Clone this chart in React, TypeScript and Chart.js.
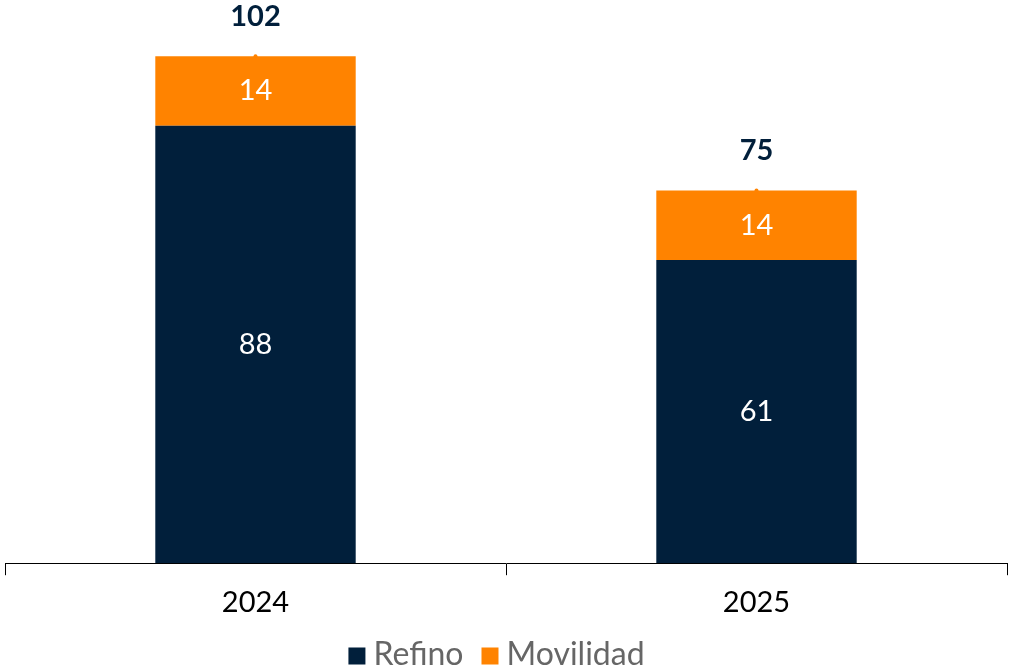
import React, { useEffect, useRef } from "react";
import { Chart, registerables } from "chart.js";

Chart.register(...registerables);

const categories = ["2024", "2025"];
const seriesNames = ["Refino", "Movilidad"];
const refino = [88, 61];
const movilidad = [14, 14];
const totals = [102, 75];

const NAVY = "#011F3B";
const ORANGE = "#FF8300";
const FONT = "Lato, 'Noto Sans', sans-serif";

const labelPlugin = {
  id: "valueLabels",
  afterDatasetsDraw(chart: any) {
    const ctx = chart.ctx;
    ctx.save();
    ctx.textAlign = "center";
    ctx.textBaseline = "middle";
    chart.data.datasets.forEach((ds: any, di: number) => {
      const meta = chart.getDatasetMeta(di);
      meta.data.forEach((el: any, i: number) => {
        const v = ds.data[i];
        if (ds.type === "line") {
          ctx.fillStyle = NAVY;
          ctx.font = `bold 29px ${FONT}`;
          ctx.fillText(String(v), el.x, el.y - 40);
        } else {
          const props = el.getProps(["x", "y", "base"], true);
          ctx.fillStyle = "#ffffff";
          ctx.font = `29px ${FONT}`;
          ctx.fillText(String(v), props.x, (props.y + props.base) / 2);
        }
      });
    });
    ctx.restore();
  },
};

const legendPlugin = {
  id: "customLegend",
  afterDraw(chart: any) {
    const ctx = chart.ctx;
    ctx.save();
    ctx.font = `32px ${FONT}`;
    ctx.textBaseline = "middle";
    ctx.textAlign = "left";
    const box = 17;
    const gapBoxText = 8;
    const gapItems = 18;
    const colors = [NAVY, ORANGE];
    const widths = seriesNames.map((n) => ctx.measureText(n).width);
    let total = 0;
    widths.forEach((w, i) => {
      total += box + gapBoxText + w + (i < widths.length - 1 ? gapItems : 0);
    });
    let x = (1009 - total) / 2 - 8;
    const cy = 655;
    seriesNames.forEach((n, i) => {
      ctx.fillStyle = colors[i];
      ctx.fillRect(x, cy - box / 2 + 1, box, box);
      x += box + gapBoxText;
      ctx.fillStyle = "#666666";
      ctx.fillText(n, x, cy);
      x += widths[i] + gapItems;
    });
    ctx.restore();
  },
};

export default function App() {
  const ref = useRef<HTMLCanvasElement>(null);
  useEffect(() => {
    if (!ref.current) return;
    const chart = new Chart(ref.current, {
      type: "bar",
      data: {
        labels: categories,
        datasets: [
          {
            label: seriesNames[0],
            data: refino,
            backgroundColor: NAVY,
            stack: "s",
            categoryPercentage: 0.8,
            barPercentage: 0.5,
            order: 2,
          },
          {
            label: seriesNames[1],
            data: movilidad,
            backgroundColor: ORANGE,
            stack: "s",
            categoryPercentage: 0.8,
            barPercentage: 0.5,
            order: 2,
          },
          {
            type: "line" as any,
            label: "Total",
            data: totals,
            showLine: false,
            pointRadius: 2,
            pointHoverRadius: 2,
            pointBackgroundColor: ORANGE,
            pointBorderWidth: 0,
            borderColor: ORANGE,
            order: 1,
          } as any,
        ],
      },
      options: {
        animation: false,
        responsive: false,
        maintainAspectRatio: false,
        layout: { autoPadding: false, padding: { left: 5, right: 2, top: 0, bottom: 39 } },
        plugins: {
          legend: { display: false },
          tooltip: { enabled: false },
        },
        scales: {
          x: {
            stacked: true,
            grid: {
              offset: true,
              drawOnChartArea: false,
              drawTicks: true,
              tickLength: 12,
              color: "#000000",
            },
            border: { display: true, color: "#000000", width: 1 },
            ticks: { color: "#000000", font: { family: FONT, size: 29 }, padding: 10 },
          },
          y: {
            stacked: true,
            display: false,
            min: 0,
            max: 113.3,
          },
        },
      },
      plugins: [labelPlugin, legendPlugin],
    });
    return () => chart.destroy();
  }, []);
  return (
    <div style={{ position: "fixed", left: 0, top: 0, width: 1009, height: 669, overflow: "hidden", background: "#fff" }}>
      <canvas ref={ref} width={1009} height={669} style={{ width: 1009, height: 669, display: "block" }} />
    </div>
  );
}
